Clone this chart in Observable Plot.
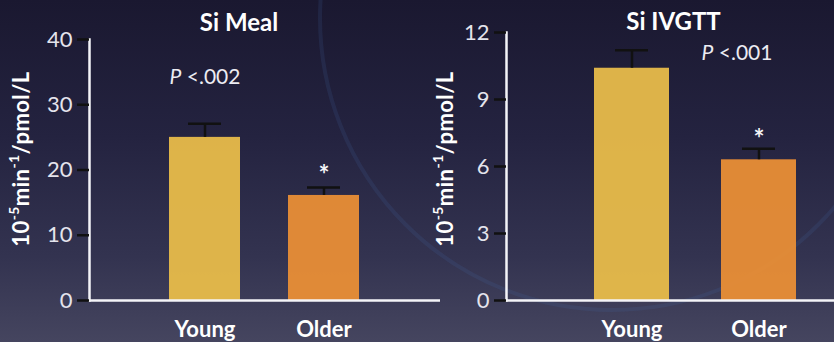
<!DOCTYPE html>
<html>
<head>
<meta charset="utf-8">
<script src="https://cdn.jsdelivr.net/npm/d3@7"></script>
<script src="https://cdn.jsdelivr.net/npm/@observablehq/plot@0.6"></script>
<style>
  html, body { margin: 0; padding: 0; }
  body {
    width: 834px; height: 342px; overflow: hidden;
    background: linear-gradient(180deg, #1a1830 0%, #242340 40%, #333350 75%, #45455f 100%);
    font-family: Lato, "Open Sans", sans-serif;
  }
  #wrap { position: relative; width: 834px; height: 342px; }
  #wrap svg { position: absolute; top: 0; overflow: visible; }
</style>
</head>
<body>
<div id="wrap"></div>
<script>
// Insulin sensitivity (Si), young vs older subjects, mean ± SEM
const groups = ["Young", "Older"];
const barColors = ["#E8BC4A", "#E98E36"];

const mealMean = [25.0, 16.1];
const mealSem = [2.1, 1.2];
const mealTicks = [0, 10, 20, 30, 40];

const ivgttMean = [10.4, 6.3];
const ivgttSem = [0.8, 0.5];
const ivgttTicks = [0, 3, 6, 9, 12];

const panels = [
  {
    title: "Si Meal", pText: "P <.002", means: mealMean, sems: mealSem, ticks: mealTicks,
    left: 0, width: 440, marginLeft: 89, marginTop: 39,
    xRange: [169, 359], padInner: 0.4034, capInset: 19,
    pAt: {group: "Young", value: 34.2}, pDx: 0, starDy: -4,
    titleDx: -26, titleDy: -16, labelX: 23, labelY: 159
  },
  {
    title: "Si IVGTT", pText: "P <.001", means: ivgttMean, sems: ivgttSem, ticks: ivgttTicks,
    left: 440, width: 394, marginLeft: 66, marginTop: 32,
    xRange: [153, 356], padInner: 0.4118, capInset: 21,
    pAt: {group: "Older", value: 11.06}, pDx: -22, starDy: -1,
    titleDx: 3, titleDy: -10, labelX: 7, labelY: 159
  }
];

const wrap = document.getElementById("wrap");

// faint decorative arc behind the panels
d3.select(wrap).append("svg")
  .attr("width", 834).attr("height", 342)
  .style("left", "0px")
  .append("circle")
  .attr("cx", 612).attr("cy", 18).attr("r", 292)
  .attr("fill", "none")
  .attr("stroke", "rgba(70,105,170,0.16)")
  .attr("stroke-width", 4);

for (const p of panels) {
  const rows = groups.map((g, i) => ({
    group: g, mean: p.means[i], hi: p.means[i] + p.sems[i], color: barColors[i]
  }));
  const yMax = p.ticks[p.ticks.length - 1];

  const svg = Plot.plot({
    width: p.width,
    height: 342,
    marginLeft: p.marginLeft,
    marginRight: 0,
    marginTop: p.marginTop,
    marginBottom: 42,
    style: {background: "transparent", color: "#e6e6ee", fontFamily: "Lato, 'Open Sans', sans-serif"},
    x: {type: "band", domain: groups, range: p.xRange, paddingInner: p.padInner, paddingOuter: 0, align: 0.5},
    y: {domain: [0, yMax]},
    color: {type: "identity"},
    marks: [
      Plot.barY(rows, {x: "group", y: "mean", fill: "color", fillOpacity: 0.95}),
      Plot.ruleX(rows, {x: "group", y1: "mean", y2: "hi", stroke: "#111", strokeWidth: 2.5}),
      Plot.tickY(rows, {x: "group", y: "hi", stroke: "#111", strokeWidth: 2.5,
        insetLeft: p.capInset, insetRight: p.capInset}),
      Plot.ruleY([0], {stroke: "#f4f4f8", strokeWidth: 2.5}),
      Plot.frame({anchor: "left", stroke: "#f4f4f8", strokeWidth: 2.5}),
      Plot.axisY({ticks: p.ticks, tickSize: 12, tickPadding: 5, stroke: "#111", strokeWidth: 2.5,
        fill: "#e4e4ec", fontSize: 22, label: null}),
      Plot.axisX({tickSize: 0, tickPadding: 21, fill: "#ffffff", fontSize: 22, fontWeight: "bold", label: null}),
      Plot.text([rows[1]], {x: "group", y: "hi", text: () => "*", dy: p.starDy, lineAnchor: "bottom",
        fontSize: 26, fontWeight: "bold", fill: "#f4f4f8"}),
      Plot.text([p.pAt], {x: "group", y: "value", text: () => p.pText, dx: p.pDx, fontSize: 21,
        fill: "#ececf2", className: "pval"}),
      Plot.text([p.title], {frameAnchor: "top", lineAnchor: "middle", dx: p.titleDx, dy: p.titleDy,
        fontSize: 24, fontWeight: "bold", fill: "#ffffff"})
    ]
  });

  svg.style.left = p.left + "px";
  wrap.appendChild(svg);

  // italic "P" in the significance note
  d3.select(svg).selectAll(".pval text").each(function () {
    const s = this.textContent;
    this.textContent = "";
    d3.select(this).append("tspan").attr("font-style", "italic").text(s.slice(0, 1));
    d3.select(this).append("tspan").text(s.slice(1));
  });

  // unit label with superscripts
  const lab = d3.select(svg).append("text")
    .attr("transform", `translate(${p.labelX},${p.labelY}) rotate(-90)`)
    .attr("text-anchor", "middle")
    .attr("dominant-baseline", "middle")
    .attr("fill", "#ffffff")
    .attr("font-weight", "bold")
    .attr("font-size", 22)
    .attr("letter-spacing", 0.4);
  lab.append("tspan").text("10");
  lab.append("tspan").attr("font-size", 14).attr("dy", -8).text("-5");
  lab.append("tspan").attr("dy", 8).text("min");
  lab.append("tspan").attr("font-size", 14).attr("dy", -8).text("-1");
  lab.append("tspan").attr("dy", 8).text("/pmol/L");
}
</script>
</body>
</html>
